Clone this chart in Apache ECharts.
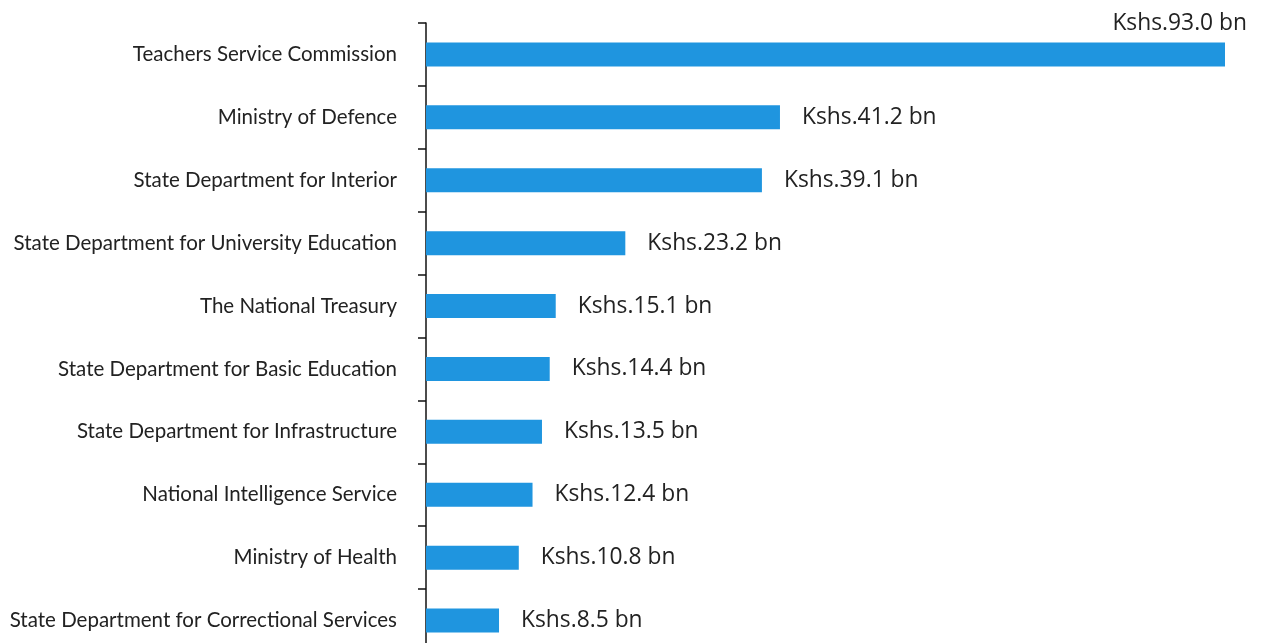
<!DOCTYPE html>
<html>
<head>
<meta charset="utf-8">
<script src="https://cdn.jsdelivr.net/npm/echarts@6/dist/echarts.min.js"></script>
<style>
  html, body { margin: 0; padding: 0; background: #fff; }
  #main { width: 1262px; height: 643px; }
</style>
</head>
<body>
<div id="main"></div>
<script>
// categories top to bottom
var departments = [
  "Teachers Service Commission",
  "Ministry of Defence",
  "State Department for Interior",
  "State Department for University Education",
  "The National Treasury",
  "State Department for Basic Education",
  "State Department for Infrastructure",
  "National Intelligence Service",
  "Ministry of Health",
  "State Department for Correctional Services"
];
// Kshs billions
var amounts = [93.0, 41.2, 39.1, 23.2, 15.1, 14.4, 13.5, 12.4, 10.8, 8.5];

var myChart = echarts.init(document.getElementById("main"));

var barData = amounts.map(function (v, i) {
  var item = { value: v };
  if (i === 0) {
    // top label sits above the end of the bar
    item.label = {
      position: ["100%", 0],
      align: "right",
      verticalAlign: "bottom",
      offset: [22, -7]
    };
  }
  return item;
});

var option = {
  animation: false,
  grid: { left: 426, top: 23, width: 799, height: 629, outerBoundsMode: "none" },
  xAxis: {
    type: "value",
    min: 0,
    max: 93,
    show: false
  },
  yAxis: {
    type: "category",
    inverse: true,
    data: departments,
    axisLine: { lineStyle: { color: "#111", width: 1.5 } },
    axisTick: { show: true, alignWithLabel: false, length: 8, lineStyle: { color: "#111", width: 1.5 } },
    axisLabel: {
      margin: 29,
      color: "#222",
      fontFamily: "Lato",
      fontSize: 20.5
    }
  },
  series: [
    {
      type: "bar",
      data: barData,
      barWidth: 24,
      itemStyle: { color: "#1F95DF" },
      label: {
        show: true,
        position: "right",
        distance: 22,
        color: "#222",
        fontFamily: "Open Sans",
        fontSize: 22.8,
        formatter: function (p) {
          return "Kshs." + p.value.toFixed(1) + " bn";
        }
      }
    }
  ]
};
myChart.setOption(option);
</script>
</body>
</html>
